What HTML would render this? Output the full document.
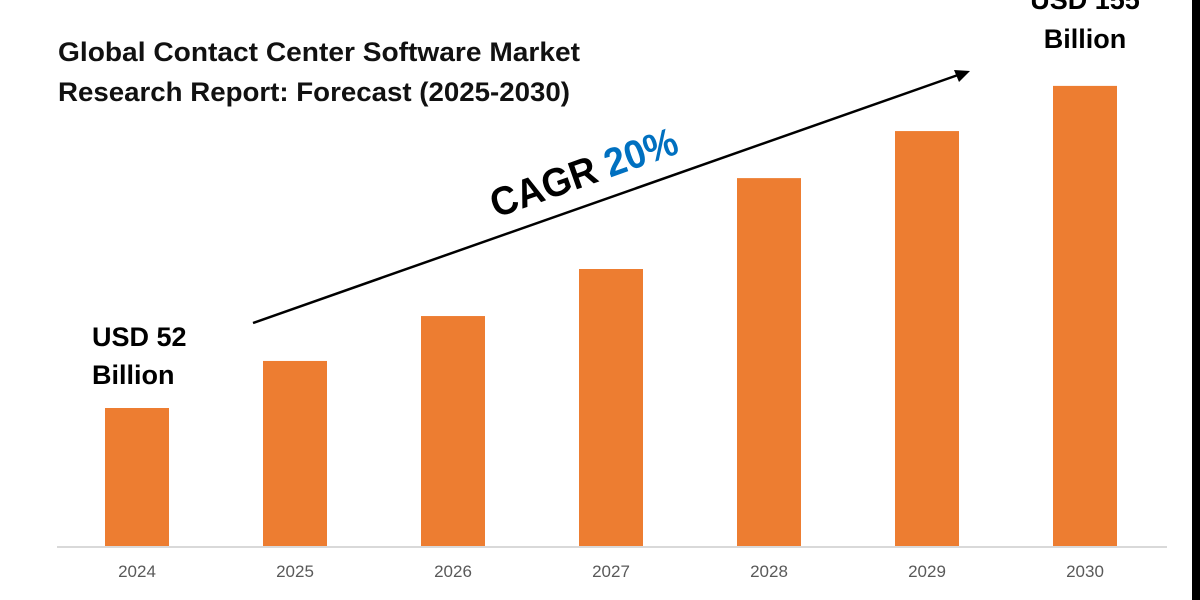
<!DOCTYPE html>
<html><head><meta charset="utf-8"><style>
html,body{margin:0;padding:0;background:#fff;}
svg{display:block;font-family:"Liberation Sans",sans-serif;}
</style></head><body>
<svg id="chart" width="1200" height="600" viewBox="0 0 1200 600">
<rect x="1192" y="0" width="8" height="600" fill="#000"/>
<text x="58" y="61" font-size="27" font-weight="bold" fill="#111" textLength="522" lengthAdjust="spacingAndGlyphs">Global Contact Center Software Market</text>
<text x="58" y="101" font-size="27" font-weight="bold" fill="#111" textLength="512" lengthAdjust="spacingAndGlyphs">Research Report: Forecast (2025-2030)</text>
<g id="bars"></g>
<line x1="57" y1="547" x2="1167" y2="547" stroke="#d9d9d9" stroke-width="2"/>
<g id="ticks"></g>
<line x1="253" y1="323" x2="958" y2="75" stroke="#000" stroke-width="2.5"/>
<polygon points="970,71 954,70 959,82" fill="#000"/>
<text transform="translate(496,218) rotate(-19.5)" font-size="40" font-weight="bold" fill="#000" textLength="196" lengthAdjust="spacingAndGlyphs">CAGR <tspan fill="#0070C0">20%</tspan></text>
<text x="92" y="346" font-size="27" font-weight="bold" fill="#000">USD 52</text>
<text x="92" y="384" font-size="27" font-weight="bold" fill="#000">Billion</text>
<text x="1085" y="9" font-size="27" font-weight="bold" fill="#000" text-anchor="middle">USD 155</text>
<text x="1085" y="48" font-size="27" font-weight="bold" fill="#000" text-anchor="middle">Billion</text>
</svg>
<script>
const categories = ["2024","2025","2026","2027","2028","2029","2030"];
const values = [52, 69.6, 86.4, 104, 138, 155.6, 172.5];
const baseY = 547, pxPerUnit = 139/52;
function yScale(v){ return baseY - v*pxPerUnit; }
function xCenter(i){ return 137 + i*158; }
const ns = "http://www.w3.org/2000/svg";
const bars = document.getElementById('bars');
const ticks = document.getElementById('ticks');
categories.forEach((c,i)=>{
  const r = document.createElementNS(ns,'rect');
  r.setAttribute('x', xCenter(i)-32);
  r.setAttribute('y', yScale(values[i]));
  r.setAttribute('width', 64);
  r.setAttribute('height', baseY - yScale(values[i]));
  r.setAttribute('fill', '#ED7D31');
  
  
  bars.appendChild(r);
  const t = document.createElementNS(ns,'text');
  t.setAttribute('x', xCenter(i));
  t.setAttribute('y', 577);
  t.setAttribute('text-anchor', 'middle');
  t.setAttribute('font-size', '17');
  t.setAttribute('fill', '#595959');
  
  
  t.textContent = c;
  ticks.appendChild(t);
});
</script>
</body></html>
